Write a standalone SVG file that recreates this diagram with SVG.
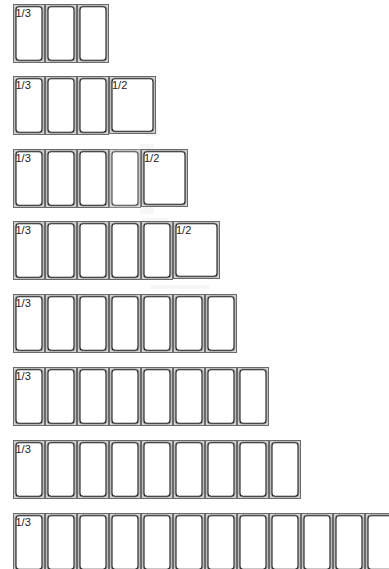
<svg xmlns="http://www.w3.org/2000/svg" xmlns:xlink="http://www.w3.org/1999/xlink" width="389" height="569" viewBox="0 0 389 569">
<style>
.o{fill:#d4d4d4;stroke:#6a6a6a;stroke-width:1}
.i{fill:#fff;stroke:#1e1e1e;stroke-width:1.1}
.g{fill:none;stroke:#9a9a9a;stroke-width:0.8}
.t{font-family:"Liberation Sans",Arial,sans-serif;font-size:11px;fill:#1a1a1a}
.ghost{fill:#f6f6f6;stroke:none}
</style>
<defs>
<g id="p">
<rect class="o" x="0.5" y="0.5" width="31" height="58"/>
<rect class="g" x="2" y="1.8" width="28" height="55.4" rx="3.5"/>
<rect class="i" x="3" y="2.8" width="26" height="53.4" rx="3"/>
</g>
<g id="h">
<rect class="o" x="0.5" y="0.5" width="46" height="57"/>
<rect class="g" x="2" y="1.8" width="43" height="54.4" rx="3.5"/>
<rect class="i" x="3" y="2.8" width="41" height="52.4" rx="3"/>
</g>
</defs>
<g id="ghosts">
<rect class="ghost" x="146" y="120" width="12" height="16"/>
<rect class="ghost" x="140" y="144" width="14" height="70"/>
<rect class="ghost" x="142" y="218" width="26" height="62"/>
<rect class="ghost" x="150" y="285" width="60" height="4"/>
</g>
<g id="row1">
<g id="r1p1"><use xlink:href="#p" x="13" y="4"/><text class="t" x="15.5" y="17">1/3</text></g>
<g id="r1p2"><use xlink:href="#p" x="45" y="4"/></g>
<g id="r1p3"><use xlink:href="#p" x="77" y="4"/></g>
</g>
<g id="row2">
<g id="r2p1"><use xlink:href="#p" x="13" y="76"/><text class="t" x="15.5" y="89">1/3</text></g>
<g id="r2p2"><use xlink:href="#p" x="45" y="76"/></g>
<g id="r2p3"><use xlink:href="#p" x="77" y="76"/></g>
<g id="r2h"><use xlink:href="#h" x="109" y="76"/><text class="t" x="112" y="89">1/2</text></g>
</g>
<g id="row3">
<g id="r3p1"><use xlink:href="#p" x="13" y="149"/><text class="t" x="15.5" y="162">1/3</text></g>
<g id="r3p2"><use xlink:href="#p" x="45" y="149"/></g>
<g id="r3p3"><use xlink:href="#p" x="77" y="149"/></g>
<g id="r3p4" opacity="0.8"><use xlink:href="#p" x="109" y="149"/></g>
<g id="r3h"><use xlink:href="#h" x="141" y="149"/><text class="t" x="144" y="162">1/2</text></g>
</g>
<g id="row4">
<g id="r4p1"><use xlink:href="#p" x="13" y="221"/><text class="t" x="15.5" y="234">1/3</text></g>
<g id="r4p2"><use xlink:href="#p" x="45" y="221"/></g>
<g id="r4p3"><use xlink:href="#p" x="77" y="221"/></g>
<g id="r4p4"><use xlink:href="#p" x="109" y="221"/></g>
<g id="r4p5"><use xlink:href="#p" x="141" y="221"/></g>
<g id="r4h"><use xlink:href="#h" x="173" y="221"/><text class="t" x="176" y="234">1/2</text></g>
</g>
<g id="row5">
<g id="r5p1"><use xlink:href="#p" x="13" y="294"/><text class="t" x="15.5" y="307">1/3</text></g>
<g id="r5p2"><use xlink:href="#p" x="45" y="294"/></g>
<g id="r5p3"><use xlink:href="#p" x="77" y="294"/></g>
<g id="r5p4"><use xlink:href="#p" x="109" y="294"/></g>
<g id="r5p5"><use xlink:href="#p" x="141" y="294"/></g>
<g id="r5p6"><use xlink:href="#p" x="173" y="294"/></g>
<g id="r5p7"><use xlink:href="#p" x="205" y="294"/></g>
</g>
<g id="row6">
<g id="r6p1"><use xlink:href="#p" x="13" y="367"/><text class="t" x="15.5" y="380">1/3</text></g>
<g id="r6p2"><use xlink:href="#p" x="45" y="367"/></g>
<g id="r6p3"><use xlink:href="#p" x="77" y="367"/></g>
<g id="r6p4"><use xlink:href="#p" x="109" y="367"/></g>
<g id="r6p5"><use xlink:href="#p" x="141" y="367"/></g>
<g id="r6p6"><use xlink:href="#p" x="173" y="367"/></g>
<g id="r6p7"><use xlink:href="#p" x="205" y="367"/></g>
<g id="r6p8"><use xlink:href="#p" x="237" y="367"/></g>
</g>
<g id="row7">
<g id="r7p1"><use xlink:href="#p" x="13" y="440"/><text class="t" x="15.5" y="453">1/3</text></g>
<g id="r7p2"><use xlink:href="#p" x="45" y="440"/></g>
<g id="r7p3"><use xlink:href="#p" x="77" y="440"/></g>
<g id="r7p4"><use xlink:href="#p" x="109" y="440"/></g>
<g id="r7p5"><use xlink:href="#p" x="141" y="440"/></g>
<g id="r7p6"><use xlink:href="#p" x="173" y="440"/></g>
<g id="r7p7"><use xlink:href="#p" x="205" y="440"/></g>
<g id="r7p8"><use xlink:href="#p" x="237" y="440"/></g>
<g id="r7p9"><use xlink:href="#p" x="269" y="440"/></g>
</g>
<g id="row8">
<g id="r8p1"><use xlink:href="#p" x="13" y="513"/><text class="t" x="15.5" y="526">1/3</text></g>
<g id="r8p2"><use xlink:href="#p" x="45" y="513"/></g>
<g id="r8p3"><use xlink:href="#p" x="77" y="513"/></g>
<g id="r8p4"><use xlink:href="#p" x="109" y="513"/></g>
<g id="r8p5"><use xlink:href="#p" x="141" y="513"/></g>
<g id="r8p6"><use xlink:href="#p" x="173" y="513"/></g>
<g id="r8p7"><use xlink:href="#p" x="205" y="513"/></g>
<g id="r8p8"><use xlink:href="#p" x="237" y="513"/></g>
<g id="r8p9"><use xlink:href="#p" x="269" y="513"/></g>
<g id="r8p10"><use xlink:href="#p" x="301" y="513"/></g>
<g id="r8p11"><use xlink:href="#p" x="333" y="513"/></g>
<g id="r8p12"><use xlink:href="#p" x="365" y="513"/></g>
</g>
<g id="connectors"/>
</svg>
